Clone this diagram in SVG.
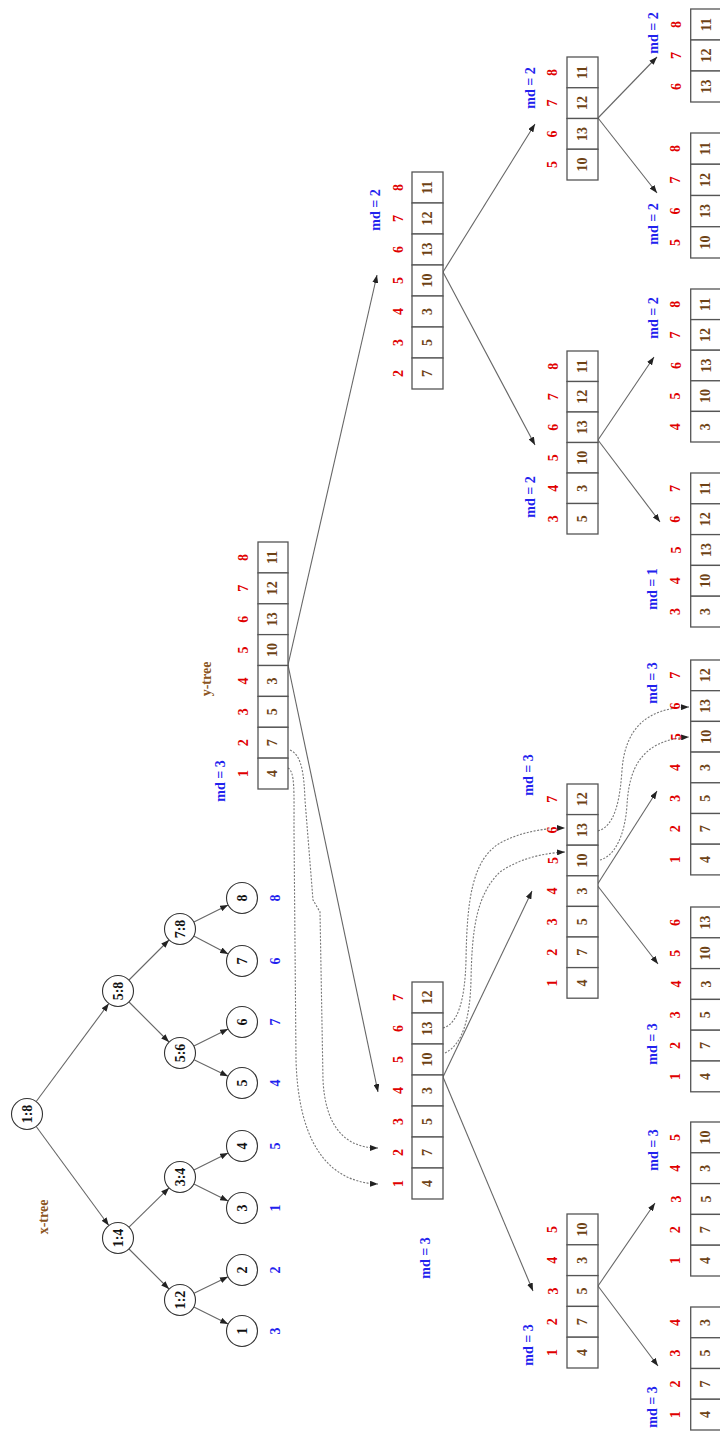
<svg xmlns="http://www.w3.org/2000/svg" width="720" height="1433" viewBox="0 0 720 1433">
<style>
text{font-family:"Liberation Serif","Times New Roman",serif;font-weight:bold;text-anchor:middle;dominant-baseline:central}
.c{fill:#fff;stroke:#555;stroke-width:1.3}
.v{font-size:14px;fill:#6e4214}
.i{font-size:14px;fill:#e00000}
.md{font-size:14px;fill:#2222ee}
.lb{font-size:14px;fill:#8b5522}
.n{fill:#fff;stroke:#333;stroke-width:1.1}
.t{font-size:14px;fill:#111}
.lf{font-size:14px;fill:#2222ee}
.e{fill:none;stroke:#666;stroke-width:1.1;marker-end:url(#ah)}
.d{fill:none;stroke:#777;stroke-width:1.1;stroke-dasharray:2 1.5;marker-end:url(#ah)}
</style>
<defs>
<marker id="ah" markerUnits="userSpaceOnUse" markerWidth="8" markerHeight="6" viewBox="0 0 8 6" refX="8" refY="3" orient="auto"><path d="M0,0 L8,3 L0,6 z" fill="#222"/></marker>
</defs>
<rect width="720" height="1433" fill="#fff"/>

<text class="lb" x="43" y="1217" transform="rotate(-90 43 1217)">x-tree</text>
<text class="lb" x="206" y="679" transform="rotate(-90 206 679)">y-tree</text>

<g id="connectors">
<line class="e" x1="36.2" y1="1101.5" x2="108.8" y2="1003.5"/>
<line class="e" x1="36.2" y1="1126.5" x2="108.8" y2="1225.5"/>
<line class="e" x1="129" y1="1227.1" x2="169" y2="1187.9"/>
<line class="e" x1="129" y1="1249" x2="169" y2="1289"/>
<line class="e" x1="129" y1="980" x2="169" y2="940"/>
<line class="e" x1="129" y1="1002" x2="169" y2="1042"/>
<line class="e" x1="193.9" y1="1170.1" x2="228.1" y2="1152.9"/>
<line class="e" x1="193.9" y1="1183.9" x2="228.1" y2="1201.1"/>
<line class="e" x1="194" y1="1293.3" x2="228" y2="1276.7"/>
<line class="e" x1="193.9" y1="1306.9" x2="228.1" y2="1324.1"/>
<line class="e" x1="193.9" y1="922.1" x2="228.1" y2="904.9"/>
<line class="e" x1="193.8" y1="936.1" x2="228.2" y2="953.9"/>
<line class="e" x1="193.9" y1="1046.1" x2="228.1" y2="1028.9"/>
<line class="e" x1="194" y1="1059.7" x2="228" y2="1076.3"/>

<line class="e" x1="288" y1="665" x2="377" y2="275"/>
<line class="e" x1="288" y1="665" x2="378" y2="1092"/>
<line class="e" x1="443" y1="272" x2="535" y2="124"/>
<line class="e" x1="443" y1="272" x2="535" y2="445"/>
<line class="e" x1="598" y1="118" x2="657" y2="57"/>
<line class="e" x1="598" y1="118" x2="657" y2="193"/>
<line class="e" x1="598" y1="440" x2="654" y2="357"/>
<line class="e" x1="598" y1="440" x2="660" y2="522"/>
<line class="e" x1="443" y1="1077" x2="532" y2="891"/>
<line class="e" x1="443" y1="1077" x2="533" y2="1291"/>
<line class="e" x1="597" y1="885" x2="657" y2="791"/>
<line class="e" x1="597" y1="885" x2="658" y2="964"/>
<line class="e" x1="598" y1="1286" x2="655" y2="1203"/>
<line class="e" x1="598" y1="1286" x2="658" y2="1366"/>

<path class="d" d="M288,768 C295,772 294,790 294,830 L296,1060 C298,1130 320,1182 378,1184"/>
<path class="d" d="M290,750 C302,755 304,775 305,800 L313,900 L320,912 L323,1080 C325,1120 340,1148 378,1148"/>
<path class="d" d="M443,1028 C458,1024 465,1000 466,960 C467,900 472,860 500,843 C520,832 545,828 565,828"/>
<path class="d" d="M445,1053 C462,1045 470,1020 471,980 C472,930 476,895 500,872 C520,858 545,853 565,852"/>
<path class="d" d="M598,831 C615,826 620,800 622,770 C625,730 645,708 689,707"/>
<path class="d" d="M600,860 C615,856 625,835 627,805 C629,770 640,740 689,737"/>
</g>

<g id="n18"><circle class="n" cx="27" cy="1114" r="15.5"/><text class="t" x="27" y="1114" transform="rotate(-90 27 1114)">1:8</text></g>
<g id="n14"><circle class="n" cx="118" cy="1238" r="15.5"/><text class="t" x="118" y="1238" transform="rotate(-90 118 1238)">1:4</text></g>
<g id="n58"><circle class="n" cx="118" cy="991" r="15.5"/><text class="t" x="118" y="991" transform="rotate(-90 118 991)">5:8</text></g>
<g id="n34"><circle class="n" cx="180" cy="1177" r="15.5"/><text class="t" x="180" y="1177" transform="rotate(-90 180 1177)">3:4</text></g>
<g id="n12"><circle class="n" cx="180" cy="1300" r="15.5"/><text class="t" x="180" y="1300" transform="rotate(-90 180 1300)">1:2</text></g>
<g id="n78"><circle class="n" cx="180" cy="929" r="15.5"/><text class="t" x="180" y="929" transform="rotate(-90 180 929)">7:8</text></g>
<g id="n56"><circle class="n" cx="180" cy="1053" r="15.5"/><text class="t" x="180" y="1053" transform="rotate(-90 180 1053)">5:6</text></g>
<g id="leaf8"><circle class="n" cx="242" cy="898" r="15.5"/><text class="t" x="242" y="898" transform="rotate(-90 242 898)">8</text><text class="lf" x="275" y="898" transform="rotate(-90 275 898)">8</text></g>
<g id="leaf7"><circle class="n" cx="242" cy="961" r="15.5"/><text class="t" x="242" y="961" transform="rotate(-90 242 961)">7</text><text class="lf" x="275" y="961" transform="rotate(-90 275 961)">6</text></g>
<g id="leaf6"><circle class="n" cx="242" cy="1022" r="15.5"/><text class="t" x="242" y="1022" transform="rotate(-90 242 1022)">6</text><text class="lf" x="275" y="1022" transform="rotate(-90 275 1022)">7</text></g>
<g id="leaf5"><circle class="n" cx="242" cy="1083" r="15.5"/><text class="t" x="242" y="1083" transform="rotate(-90 242 1083)">5</text><text class="lf" x="275" y="1083" transform="rotate(-90 275 1083)">4</text></g>
<g id="leaf4"><circle class="n" cx="242" cy="1146" r="15.5"/><text class="t" x="242" y="1146" transform="rotate(-90 242 1146)">4</text><text class="lf" x="275" y="1146" transform="rotate(-90 275 1146)">5</text></g>
<g id="leaf3"><circle class="n" cx="242" cy="1208" r="15.5"/><text class="t" x="242" y="1208" transform="rotate(-90 242 1208)">3</text><text class="lf" x="275" y="1208" transform="rotate(-90 275 1208)">1</text></g>
<g id="leaf2"><circle class="n" cx="242" cy="1270" r="15.5"/><text class="t" x="242" y="1270" transform="rotate(-90 242 1270)">2</text><text class="lf" x="275" y="1270" transform="rotate(-90 275 1270)">2</text></g>
<g id="leaf1"><circle class="n" cx="242" cy="1331" r="15.5"/><text class="t" x="242" y="1331" transform="rotate(-90 242 1331)">1</text><text class="lf" x="275" y="1331" transform="rotate(-90 275 1331)">3</text></g>

<g id="yroot">
<rect class="c" x="258" y="542" width="30" height="30.9"/><rect class="c" x="258" y="572.9" width="30" height="30.9"/><rect class="c" x="258" y="603.8" width="30" height="30.9"/><rect class="c" x="258" y="634.6" width="30" height="30.9"/><rect class="c" x="258" y="665.5" width="30" height="30.9"/><rect class="c" x="258" y="696.4" width="30" height="30.9"/><rect class="c" x="258" y="727.3" width="30" height="30.9"/><rect class="c" x="258" y="758.1" width="30" height="30.9"/>
<text class="v" x="273" y="557.4" transform="rotate(-90 273 557.4)">11</text><text class="v" x="273" y="588.3" transform="rotate(-90 273 588.3)">12</text><text class="v" x="273" y="619.2" transform="rotate(-90 273 619.2)">13</text><text class="v" x="273" y="650.1" transform="rotate(-90 273 650.1)">10</text><text class="v" x="273" y="680.9" transform="rotate(-90 273 680.9)">3</text><text class="v" x="273" y="711.8" transform="rotate(-90 273 711.8)">5</text><text class="v" x="273" y="742.7" transform="rotate(-90 273 742.7)">7</text><text class="v" x="273" y="773.6" transform="rotate(-90 273 773.6)">4</text>
<text class="i" x="244" y="557.4" transform="rotate(-90 244 557.4)">8</text><text class="i" x="244" y="588.3" transform="rotate(-90 244 588.3)">7</text><text class="i" x="244" y="619.2" transform="rotate(-90 244 619.2)">6</text><text class="i" x="244" y="650.1" transform="rotate(-90 244 650.1)">5</text><text class="i" x="244" y="680.9" transform="rotate(-90 244 680.9)">4</text><text class="i" x="244" y="711.8" transform="rotate(-90 244 711.8)">3</text><text class="i" x="244" y="742.7" transform="rotate(-90 244 742.7)">2</text><text class="i" x="244" y="773.6" transform="rotate(-90 244 773.6)">1</text>
<text class="md" x="220" y="781" transform="rotate(-90 220 781)">md = 3</text>
</g>

<g id="y2up">
<rect class="c" x="412" y="172" width="31" height="31"/><rect class="c" x="412" y="203" width="31" height="31"/><rect class="c" x="412" y="234" width="31" height="31"/><rect class="c" x="412" y="265" width="31" height="31"/><rect class="c" x="412" y="296" width="31" height="31"/><rect class="c" x="412" y="327" width="31" height="31"/><rect class="c" x="412" y="358" width="31" height="31"/>
<text class="v" x="427.5" y="187.5" transform="rotate(-90 427.5 187.5)">11</text><text class="v" x="427.5" y="218.5" transform="rotate(-90 427.5 218.5)">12</text><text class="v" x="427.5" y="249.5" transform="rotate(-90 427.5 249.5)">13</text><text class="v" x="427.5" y="280.5" transform="rotate(-90 427.5 280.5)">10</text><text class="v" x="427.5" y="311.5" transform="rotate(-90 427.5 311.5)">3</text><text class="v" x="427.5" y="342.5" transform="rotate(-90 427.5 342.5)">5</text><text class="v" x="427.5" y="373.5" transform="rotate(-90 427.5 373.5)">7</text>
<text class="i" x="398" y="187.5" transform="rotate(-90 398 187.5)">8</text><text class="i" x="398" y="218.5" transform="rotate(-90 398 218.5)">7</text><text class="i" x="398" y="249.5" transform="rotate(-90 398 249.5)">6</text><text class="i" x="398" y="280.5" transform="rotate(-90 398 280.5)">5</text><text class="i" x="398" y="311.5" transform="rotate(-90 398 311.5)">4</text><text class="i" x="398" y="342.5" transform="rotate(-90 398 342.5)">3</text><text class="i" x="398" y="373.5" transform="rotate(-90 398 373.5)">2</text>
<text class="md" x="375" y="210" transform="rotate(-90 375 210)">md = 2</text>
</g>

<g id="y2low">
<rect class="c" x="412" y="982" width="31" height="31"/><rect class="c" x="412" y="1013" width="31" height="31"/><rect class="c" x="412" y="1044" width="31" height="31"/><rect class="c" x="412" y="1075" width="31" height="31"/><rect class="c" x="412" y="1106" width="31" height="31"/><rect class="c" x="412" y="1137" width="31" height="31"/><rect class="c" x="412" y="1168" width="31" height="31"/>
<text class="v" x="427.5" y="997.5" transform="rotate(-90 427.5 997.5)">12</text><text class="v" x="427.5" y="1028.5" transform="rotate(-90 427.5 1028.5)">13</text><text class="v" x="427.5" y="1059.5" transform="rotate(-90 427.5 1059.5)">10</text><text class="v" x="427.5" y="1090.5" transform="rotate(-90 427.5 1090.5)">3</text><text class="v" x="427.5" y="1121.5" transform="rotate(-90 427.5 1121.5)">5</text><text class="v" x="427.5" y="1152.5" transform="rotate(-90 427.5 1152.5)">7</text><text class="v" x="427.5" y="1183.5" transform="rotate(-90 427.5 1183.5)">4</text>
<text class="i" x="398" y="997.5" transform="rotate(-90 398 997.5)">7</text><text class="i" x="398" y="1028.5" transform="rotate(-90 398 1028.5)">6</text><text class="i" x="398" y="1059.5" transform="rotate(-90 398 1059.5)">5</text><text class="i" x="398" y="1090.5" transform="rotate(-90 398 1090.5)">4</text><text class="i" x="398" y="1121.5" transform="rotate(-90 398 1121.5)">3</text><text class="i" x="398" y="1152.5" transform="rotate(-90 398 1152.5)">2</text><text class="i" x="398" y="1183.5" transform="rotate(-90 398 1183.5)">1</text>
<text class="md" x="425" y="1258" transform="rotate(-90 425 1258)">md = 3</text>
</g>

<g id="y3a">
<rect class="c" x="567" y="57" width="31" height="30.75"/><rect class="c" x="567" y="87.75" width="31" height="30.75"/><rect class="c" x="567" y="118.5" width="31" height="30.75"/><rect class="c" x="567" y="149.25" width="31" height="30.75"/>
<text class="v" x="582.5" y="72.4" transform="rotate(-90 582.5 72.4)">11</text><text class="v" x="582.5" y="103.1" transform="rotate(-90 582.5 103.1)">12</text><text class="v" x="582.5" y="133.9" transform="rotate(-90 582.5 133.9)">13</text><text class="v" x="582.5" y="164.6" transform="rotate(-90 582.5 164.6)">10</text>
<text class="i" x="553" y="72.4" transform="rotate(-90 553 72.4)">8</text><text class="i" x="553" y="103.1" transform="rotate(-90 553 103.1)">7</text><text class="i" x="553" y="133.9" transform="rotate(-90 553 133.9)">6</text><text class="i" x="553" y="164.6" transform="rotate(-90 553 164.6)">5</text>
<text class="md" x="530" y="88" transform="rotate(-90 530 88)">md = 2</text>
</g>

<g id="y3b">
<rect class="c" x="567" y="351" width="31" height="30.5"/><rect class="c" x="567" y="381.5" width="31" height="30.5"/><rect class="c" x="567" y="412" width="31" height="30.5"/><rect class="c" x="567" y="442.5" width="31" height="30.5"/><rect class="c" x="567" y="473" width="31" height="30.5"/><rect class="c" x="567" y="503.5" width="31" height="30.5"/>
<text class="v" x="582.5" y="366.25" transform="rotate(-90 582.5 366.25)">11</text><text class="v" x="582.5" y="396.75" transform="rotate(-90 582.5 396.75)">12</text><text class="v" x="582.5" y="427.25" transform="rotate(-90 582.5 427.25)">13</text><text class="v" x="582.5" y="457.75" transform="rotate(-90 582.5 457.75)">10</text><text class="v" x="582.5" y="488.25" transform="rotate(-90 582.5 488.25)">3</text><text class="v" x="582.5" y="518.75" transform="rotate(-90 582.5 518.75)">5</text>
<text class="i" x="553" y="366.25" transform="rotate(-90 553 366.25)">8</text><text class="i" x="553" y="396.75" transform="rotate(-90 553 396.75)">7</text><text class="i" x="553" y="427.25" transform="rotate(-90 553 427.25)">6</text><text class="i" x="553" y="457.75" transform="rotate(-90 553 457.75)">5</text><text class="i" x="553" y="488.25" transform="rotate(-90 553 488.25)">4</text><text class="i" x="553" y="518.75" transform="rotate(-90 553 518.75)">3</text>
<text class="md" x="530" y="497" transform="rotate(-90 530 497)">md = 2</text>
</g>

<g id="y3c">
<rect class="c" x="567" y="784" width="31" height="30.6"/><rect class="c" x="567" y="814.6" width="31" height="30.6"/><rect class="c" x="567" y="845.2" width="31" height="30.6"/><rect class="c" x="567" y="875.8" width="31" height="30.6"/><rect class="c" x="567" y="906.4" width="31" height="30.6"/><rect class="c" x="567" y="937" width="31" height="30.6"/><rect class="c" x="567" y="967.6" width="31" height="30.6"/>
<text class="v" x="582.5" y="799.3" transform="rotate(-90 582.5 799.3)">12</text><text class="v" x="582.5" y="829.9" transform="rotate(-90 582.5 829.9)">13</text><text class="v" x="582.5" y="860.5" transform="rotate(-90 582.5 860.5)">10</text><text class="v" x="582.5" y="891.1" transform="rotate(-90 582.5 891.1)">3</text><text class="v" x="582.5" y="921.7" transform="rotate(-90 582.5 921.7)">5</text><text class="v" x="582.5" y="952.3" transform="rotate(-90 582.5 952.3)">7</text><text class="v" x="582.5" y="982.9" transform="rotate(-90 582.5 982.9)">4</text>
<text class="i" x="553" y="799.3" transform="rotate(-90 553 799.3)">7</text><text class="i" x="553" y="829.9" transform="rotate(-90 553 829.9)">6</text><text class="i" x="553" y="860.5" transform="rotate(-90 553 860.5)">5</text><text class="i" x="553" y="891.1" transform="rotate(-90 553 891.1)">4</text><text class="i" x="553" y="921.7" transform="rotate(-90 553 921.7)">3</text><text class="i" x="553" y="952.3" transform="rotate(-90 553 952.3)">2</text><text class="i" x="553" y="982.9" transform="rotate(-90 553 982.9)">1</text>
<text class="md" x="528" y="775" transform="rotate(-90 528 775)">md = 3</text>
</g>

<g id="y3d">
<rect class="c" x="567" y="1214" width="31" height="30.8"/><rect class="c" x="567" y="1244.8" width="31" height="30.8"/><rect class="c" x="567" y="1275.6" width="31" height="30.8"/><rect class="c" x="567" y="1306.4" width="31" height="30.8"/><rect class="c" x="567" y="1337.2" width="31" height="30.8"/>
<text class="v" x="582.5" y="1229.4" transform="rotate(-90 582.5 1229.4)">10</text><text class="v" x="582.5" y="1260.2" transform="rotate(-90 582.5 1260.2)">3</text><text class="v" x="582.5" y="1291" transform="rotate(-90 582.5 1291)">5</text><text class="v" x="582.5" y="1321.8" transform="rotate(-90 582.5 1321.8)">7</text><text class="v" x="582.5" y="1352.6" transform="rotate(-90 582.5 1352.6)">4</text>
<text class="i" x="553" y="1229.4" transform="rotate(-90 553 1229.4)">5</text><text class="i" x="553" y="1260.2" transform="rotate(-90 553 1260.2)">4</text><text class="i" x="553" y="1291" transform="rotate(-90 553 1291)">3</text><text class="i" x="553" y="1321.8" transform="rotate(-90 553 1321.8)">2</text><text class="i" x="553" y="1352.6" transform="rotate(-90 553 1352.6)">1</text>
<text class="md" x="528" y="1345" transform="rotate(-90 528 1345)">md = 3</text>
</g>

<g id="y4a">
<rect class="c" x="690.7" y="9" width="31" height="31"/><rect class="c" x="690.7" y="40" width="31" height="31"/><rect class="c" x="690.7" y="71" width="31" height="31"/>
<text class="v" x="706" y="24.5" transform="rotate(-90 706 24.5)">11</text><text class="v" x="706" y="55.5" transform="rotate(-90 706 55.5)">12</text><text class="v" x="706" y="86.5" transform="rotate(-90 706 86.5)">13</text>
<text class="i" x="676" y="24.5" transform="rotate(-90 676 24.5)">8</text><text class="i" x="676" y="55.5" transform="rotate(-90 676 55.5)">7</text><text class="i" x="676" y="86.5" transform="rotate(-90 676 86.5)">6</text>
<text class="md" x="653" y="33" transform="rotate(-90 653 33)">md = 2</text>
</g>

<g id="y4b">
<rect class="c" x="690.7" y="133" width="31" height="31.25"/><rect class="c" x="690.7" y="164.25" width="31" height="31.25"/><rect class="c" x="690.7" y="195.5" width="31" height="31.25"/><rect class="c" x="690.7" y="226.75" width="31" height="31.25"/>
<text class="v" x="706" y="148.6" transform="rotate(-90 706 148.6)">11</text><text class="v" x="706" y="179.9" transform="rotate(-90 706 179.9)">12</text><text class="v" x="706" y="211.1" transform="rotate(-90 706 211.1)">13</text><text class="v" x="706" y="242.4" transform="rotate(-90 706 242.4)">10</text>
<text class="i" x="676" y="148.6" transform="rotate(-90 676 148.6)">8</text><text class="i" x="676" y="179.9" transform="rotate(-90 676 179.9)">7</text><text class="i" x="676" y="211.1" transform="rotate(-90 676 211.1)">6</text><text class="i" x="676" y="242.4" transform="rotate(-90 676 242.4)">5</text>
<text class="md" x="653" y="224" transform="rotate(-90 653 224)">md = 2</text>
</g>

<g id="y4c">
<rect class="c" x="690.7" y="289" width="31" height="30.6"/><rect class="c" x="690.7" y="319.6" width="31" height="30.6"/><rect class="c" x="690.7" y="350.2" width="31" height="30.6"/><rect class="c" x="690.7" y="380.8" width="31" height="30.6"/><rect class="c" x="690.7" y="411.4" width="31" height="30.6"/>
<text class="v" x="706" y="304.3" transform="rotate(-90 706 304.3)">11</text><text class="v" x="706" y="334.9" transform="rotate(-90 706 334.9)">12</text><text class="v" x="706" y="365.5" transform="rotate(-90 706 365.5)">13</text><text class="v" x="706" y="396.1" transform="rotate(-90 706 396.1)">10</text><text class="v" x="706" y="426.7" transform="rotate(-90 706 426.7)">3</text>
<text class="i" x="676" y="304.3" transform="rotate(-90 676 304.3)">8</text><text class="i" x="676" y="334.9" transform="rotate(-90 676 334.9)">7</text><text class="i" x="676" y="365.5" transform="rotate(-90 676 365.5)">6</text><text class="i" x="676" y="396.1" transform="rotate(-90 676 396.1)">5</text><text class="i" x="676" y="426.7" transform="rotate(-90 676 426.7)">4</text>
<text class="md" x="653" y="318" transform="rotate(-90 653 318)">md = 2</text>
</g>

<g id="y4d">
<rect class="c" x="690.7" y="473" width="31" height="30.8"/><rect class="c" x="690.7" y="503.8" width="31" height="30.8"/><rect class="c" x="690.7" y="534.6" width="31" height="30.8"/><rect class="c" x="690.7" y="565.4" width="31" height="30.8"/><rect class="c" x="690.7" y="596.2" width="31" height="30.8"/>
<text class="v" x="706" y="488.4" transform="rotate(-90 706 488.4)">11</text><text class="v" x="706" y="519.2" transform="rotate(-90 706 519.2)">12</text><text class="v" x="706" y="550" transform="rotate(-90 706 550)">13</text><text class="v" x="706" y="580.8" transform="rotate(-90 706 580.8)">10</text><text class="v" x="706" y="611.6" transform="rotate(-90 706 611.6)">3</text>
<text class="i" x="676" y="488.4" transform="rotate(-90 676 488.4)">7</text><text class="i" x="676" y="519.2" transform="rotate(-90 676 519.2)">6</text><text class="i" x="676" y="550" transform="rotate(-90 676 550)">5</text><text class="i" x="676" y="580.8" transform="rotate(-90 676 580.8)">4</text><text class="i" x="676" y="611.6" transform="rotate(-90 676 611.6)">3</text>
<text class="md" x="652" y="589" transform="rotate(-90 652 589)">md = 1</text>
</g>

<g id="y4e">
<rect class="c" x="690.7" y="660" width="31" height="30.7"/><rect class="c" x="690.7" y="690.7" width="31" height="30.7"/><rect class="c" x="690.7" y="721.4" width="31" height="30.7"/><rect class="c" x="690.7" y="752.1" width="31" height="30.7"/><rect class="c" x="690.7" y="782.8" width="31" height="30.7"/><rect class="c" x="690.7" y="813.5" width="31" height="30.7"/><rect class="c" x="690.7" y="844.2" width="31" height="30.7"/>
<text class="v" x="706" y="675.35" transform="rotate(-90 706 675.35)">12</text><text class="v" x="706" y="706.05" transform="rotate(-90 706 706.05)">13</text><text class="v" x="706" y="736.75" transform="rotate(-90 706 736.75)">10</text><text class="v" x="706" y="767.45" transform="rotate(-90 706 767.45)">3</text><text class="v" x="706" y="798.15" transform="rotate(-90 706 798.15)">5</text><text class="v" x="706" y="828.85" transform="rotate(-90 706 828.85)">7</text><text class="v" x="706" y="859.55" transform="rotate(-90 706 859.55)">4</text>
<text class="i" x="676" y="675.35" transform="rotate(-90 676 675.35)">7</text><text class="i" x="676" y="706.05" transform="rotate(-90 676 706.05)">6</text><text class="i" x="676" y="736.75" transform="rotate(-90 676 736.75)">5</text><text class="i" x="676" y="767.45" transform="rotate(-90 676 767.45)">4</text><text class="i" x="676" y="798.15" transform="rotate(-90 676 798.15)">3</text><text class="i" x="676" y="828.85" transform="rotate(-90 676 828.85)">2</text><text class="i" x="676" y="859.55" transform="rotate(-90 676 859.55)">1</text>
<text class="md" x="652" y="683" transform="rotate(-90 652 683)">md = 3</text>
</g>

<g id="y4f">
<rect class="c" x="690.7" y="907" width="31" height="30.8"/><rect class="c" x="690.7" y="937.8" width="31" height="30.8"/><rect class="c" x="690.7" y="968.6" width="31" height="30.8"/><rect class="c" x="690.7" y="999.4" width="31" height="30.8"/><rect class="c" x="690.7" y="1030.2" width="31" height="30.8"/><rect class="c" x="690.7" y="1061" width="31" height="30.8"/>
<text class="v" x="706" y="922.4" transform="rotate(-90 706 922.4)">13</text><text class="v" x="706" y="953.2" transform="rotate(-90 706 953.2)">10</text><text class="v" x="706" y="984" transform="rotate(-90 706 984)">3</text><text class="v" x="706" y="1014.8" transform="rotate(-90 706 1014.8)">5</text><text class="v" x="706" y="1045.6" transform="rotate(-90 706 1045.6)">7</text><text class="v" x="706" y="1076.4" transform="rotate(-90 706 1076.4)">4</text>
<text class="i" x="676" y="922.4" transform="rotate(-90 676 922.4)">6</text><text class="i" x="676" y="953.2" transform="rotate(-90 676 953.2)">5</text><text class="i" x="676" y="984" transform="rotate(-90 676 984)">4</text><text class="i" x="676" y="1014.8" transform="rotate(-90 676 1014.8)">3</text><text class="i" x="676" y="1045.6" transform="rotate(-90 676 1045.6)">2</text><text class="i" x="676" y="1076.4" transform="rotate(-90 676 1076.4)">1</text>
<text class="md" x="652" y="1044" transform="rotate(-90 652 1044)">md = 3</text>
</g>

<g id="y4g">
<rect class="c" x="690.7" y="1122" width="31" height="30.8"/><rect class="c" x="690.7" y="1152.8" width="31" height="30.8"/><rect class="c" x="690.7" y="1183.6" width="31" height="30.8"/><rect class="c" x="690.7" y="1214.4" width="31" height="30.8"/><rect class="c" x="690.7" y="1245.2" width="31" height="30.8"/>
<text class="v" x="706" y="1137.4" transform="rotate(-90 706 1137.4)">10</text><text class="v" x="706" y="1168.2" transform="rotate(-90 706 1168.2)">3</text><text class="v" x="706" y="1199" transform="rotate(-90 706 1199)">5</text><text class="v" x="706" y="1229.8" transform="rotate(-90 706 1229.8)">7</text><text class="v" x="706" y="1260.6" transform="rotate(-90 706 1260.6)">4</text>
<text class="i" x="676" y="1137.4" transform="rotate(-90 676 1137.4)">5</text><text class="i" x="676" y="1168.2" transform="rotate(-90 676 1168.2)">4</text><text class="i" x="676" y="1199" transform="rotate(-90 676 1199)">3</text><text class="i" x="676" y="1229.8" transform="rotate(-90 676 1229.8)">2</text><text class="i" x="676" y="1260.6" transform="rotate(-90 676 1260.6)">1</text>
<text class="md" x="653" y="1150" transform="rotate(-90 653 1150)">md = 3</text>
</g>

<g id="y4h">
<rect class="c" x="690.7" y="1307" width="31" height="30.75"/><rect class="c" x="690.7" y="1337.75" width="31" height="30.75"/><rect class="c" x="690.7" y="1368.5" width="31" height="30.75"/><rect class="c" x="690.7" y="1399.25" width="31" height="30.75"/>
<text class="v" x="706" y="1322.4" transform="rotate(-90 706 1322.4)">3</text><text class="v" x="706" y="1353.1" transform="rotate(-90 706 1353.1)">5</text><text class="v" x="706" y="1383.9" transform="rotate(-90 706 1383.9)">7</text><text class="v" x="706" y="1414.6" transform="rotate(-90 706 1414.6)">4</text>
<text class="i" x="676" y="1322.4" transform="rotate(-90 676 1322.4)">4</text><text class="i" x="676" y="1353.1" transform="rotate(-90 676 1353.1)">3</text><text class="i" x="676" y="1383.9" transform="rotate(-90 676 1383.9)">2</text><text class="i" x="676" y="1414.6" transform="rotate(-90 676 1414.6)">1</text>
<text class="md" x="652" y="1407" transform="rotate(-90 652 1407)">md = 3</text>
</g>
</svg>
